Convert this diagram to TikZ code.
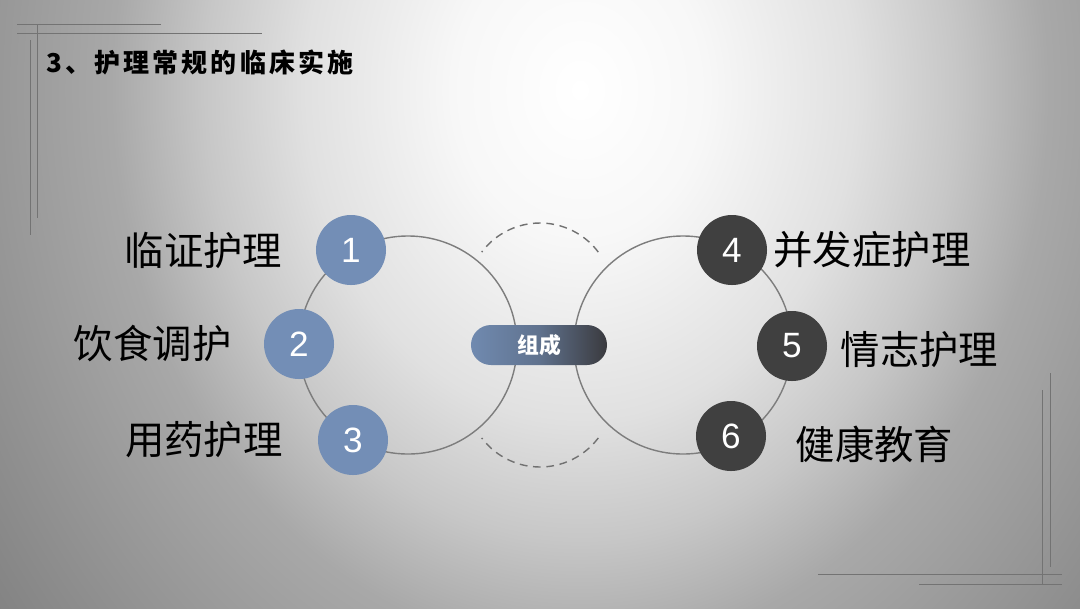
\documentclass[tikz,border=0pt]{standalone}
\usepackage{fontspec}
\newfontfamily\cjk{Noto Sans CJK SC}
\newfontfamily\cjktitle{Noto Sans CJK SC}[LetterSpace=12]
\newfontfamily\numfont{Liberation Sans}
\usetikzlibrary{positioning}
\definecolor{dotblue}{RGB}{115,142,182}
\definecolor{dotdark}{RGB}{64,64,64}
\definecolor{ringgray}{RGB}{125,125,125}
\definecolor{pillblue}{RGB}{112,138,176}
\definecolor{pilldark}{RGB}{58,58,62}
\definecolor{decogray}{RGB}{115,115,115}
\definecolor{bgA}{gray}{1.0}
\definecolor{bgB}{gray}{0.97}
\definecolor{bgC}{gray}{0.88}
\definecolor{bgD}{gray}{0.78}
\definecolor{bgE}{gray}{0.66}
\definecolor{bgF}{gray}{0.50}
\pgfdeclareradialshading{slideglow}{\pgfpoint{0bp}{0bp}}{color(0bp)=(bgA); color(4.2bp)=(bgB); color(9.2bp)=(bgC); color(12.5bp)=(bgD); color(15.6bp)=(bgE); color(25bp)=(bgF); color(50bp)=(bgF)}

\begin{document}
\begin{tikzpicture}[x=0.025cm, y=0.025cm, font=\cjk,
    every node/.style={inner sep=0pt},
    decoline/.style={draw=decogray, line width=0.6pt},
    ring/.style={circle, draw=ringgray, line width=1pt, minimum size=5.45cm},
    dasharc/.style={draw=ringgray!90!black, line width=1pt, dash pattern=on 5.5pt off 4pt},
    bluedot/.style={circle, fill=dotblue, minimum size=1.75cm, text=white, font=\numfont\fontsize{25}{30}\selectfont},
    darkdot/.style={bluedot, fill=dotdark},
    itemlabel/.style={text=black, font=\cjk\fontsize{28}{34}\selectfont}]
  % background
  \fill[bgF] (0,0) rectangle (1080,-608);
  \begin{scope}
    \clip (0,0) rectangle (1080,-608);
    \shade[shading=slideglow] (580,-90) ellipse [x radius=750, y radius=900];
  \end{scope}
  \useasboundingbox (0,0) rectangle (1080,-608);

  % frame lines
  \draw[decoline] (17,-24) -- (161,-24);
  \draw[decoline] (17,-33) -- (262,-33);
  \draw[decoline] (37,-24) -- (37,-218);
  \draw[decoline] (30,-40) -- (30,-235);
  \draw[decoline] (818,-574) -- (1062,-574);
  \draw[decoline] (919,-584) -- (1062,-584);
  \draw[decoline] (1042,-390) -- (1042,-584);
  \draw[decoline] (1050,-373) -- (1050,-567);

  \node[anchor=west, font=\cjktitle\bfseries\fontsize{18.5}{22}\selectfont] (title) at (46,-62) {3、护理常规的临床实施};

  % two rings and the dashed arcs
  \node[ring] (lring) at (408,-345) {};
  \node[ring] (rring) at (683,-345) {};
  \coordinate (arctop) at (540,-296);
  \coordinate (arcbot) at (540,-394);
  \draw[dasharc] ([shift={(37:73)}]arctop) arc[start angle=37, end angle=143, radius=73];
  \draw[dasharc] ([shift={(-37:73)}]arcbot) arc[start angle=-37, end angle=-143, radius=73];

  \node[rounded corners=0.5cm, minimum width=3.4cm, minimum height=1cm,
        left color=pillblue, right color=pilldark, middle color=pillblue!70!pilldark, text=white,
        font=\cjk\bfseries\fontsize{15.5}{18}\selectfont] (core) at (539,-345) {组成};

  % left items
  \node[bluedot] (n1) at (351,-250) {1};
  \node[bluedot] (n2) at (299,-344) {2};
  \node[bluedot] (n3) at (353,-440) {3};
  \node[itemlabel, left=0.83cm of n1] (l1) {临证护理};
  \node[itemlabel, left=0.8cm of n2] (l2) {饮食调护};
  \node[itemlabel, left=0.87cm of n3] (l3) {用药护理};

  % right items
  \node[darkdot] (n4) at (732,-250) {4};
  \node[darkdot] (n5) at (792,-346) {5};
  \node[darkdot] (n6) at (731,-436) {6};
  \node[itemlabel, right=0.15cm of n4] (l4) {并发症护理};
  \node[itemlabel, right=0.33cm of n5, yshift=-0.1cm] (l5) {情志护理};
  \node[itemlabel, right=0.73cm of n6, yshift=-0.2cm] (l6) {健康教育};
\end{tikzpicture}
\end{document}
